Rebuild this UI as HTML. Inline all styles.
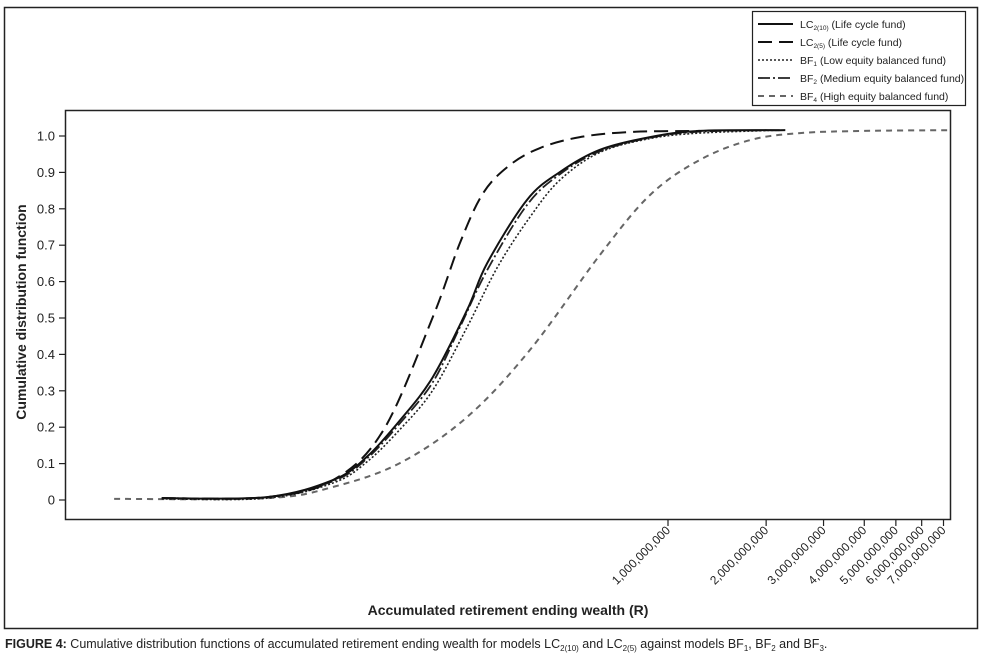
<!DOCTYPE html>
<html><head><meta charset="utf-8"><style>
body{margin:0;background:#fff;width:983px;height:663px;overflow:hidden;font-family:"Liberation Sans",sans-serif}
svg text{font-family:"Liberation Sans",sans-serif}
</style></head><body>
<svg id="chart" width="983" height="663" xmlns="http://www.w3.org/2000/svg">
<rect x="4.5" y="7.5" width="973" height="621" fill="none" stroke="#222" stroke-width="1.5"/>
<rect x="65.5" y="110.5" width="885" height="409" fill="none" stroke="#222" stroke-width="1.5"/>
<g id="ticks"></g>
<g id="lines"></g>
<text x="508" y="615" text-anchor="middle" font-size="14" font-weight="bold" fill="#222">Accumulated retirement ending wealth (R)</text>
<text transform="translate(26,312) rotate(-90)" text-anchor="middle" font-size="14" font-weight="bold" fill="#222">Cumulative distribution function</text>
<g>
<rect x="752.5" y="11.5" width="213" height="94" fill="#fff" stroke="#222" stroke-width="1.2"/>
<g id="legend-items"></g>
</g>
<text x="5" y="648" font-size="12.5" fill="#222"><tspan font-weight="bold">FIGURE 4:</tspan> Cumulative distribution functions of accumulated retirement ending wealth for models LC<tspan font-size="8" dy="3">2(10)</tspan><tspan dy="-3"> and LC</tspan><tspan font-size="8" dy="3">2(5)</tspan><tspan dy="-3"> against models BF</tspan><tspan font-size="8" dy="3">1</tspan><tspan dy="-3">, BF</tspan><tspan font-size="8" dy="3">2</tspan><tspan dy="-3"> and BF</tspan><tspan font-size="8" dy="3">3</tspan><tspan dy="-3">.</tspan></text>
</svg>
<script>
// wealth in millions of Rand, CDF values
const yTicks=[0,0.1,0.2,0.3,0.4,0.5,0.6,0.7,0.8,0.9,1.0];
const yTickLabels=["0","0.1","0.2","0.3","0.4","0.5","0.6","0.7","0.8","0.9","1.0"];
const xTicks=[1000,2000,3000,4000,5000,6000,7000];
const xTickLabels=["1,000,000,000","2,000,000,000","3,000,000,000","4,000,000,000","5,000,000,000","6,000,000,000","7,000,000,000"];
const lc10W=[28,59,94,119,151,190,242,279,369,466,618,881,1250,2290];
const lc10F=[.005,.008,.055,.118,.220,.338,.522,.651,.824,.901,.962,.997,1.014,1.016];
const lc5W=[28,59,94,134,190,230,271,327,405,537,764,1250];
const lc5F=[.005,.008,.055,.192,.503,.706,.843,.920,.967,.997,1.011,1.014];
const bf1W=[28,59,94,119,151,190,242,300,377,466,618,881,1250,2200];
const bf1F=[.003,.005,.047,.104,.195,.302,.475,.640,.777,.879,.955,.993,1.008,1.016];
const bf2W=[28,59,94,119,151,190,230,279,369,466,618,881,1250,2200];
const bf2F=[.005,.008,.052,.113,.212,.324,.475,.632,.810,.895,.958,.995,1.012,1.016];
const bf4W=[20,59,94,151,242,377,618,881,1250,1790,2540,4000,7330];
const bf4F=[.003,.005,.036,.102,.228,.412,.673,.838,.934,.989,1.008,1.014,1.016];

const NS="http://www.w3.org/2000/svg";
function xS(w){return 668+326*Math.log10(w/1000);}
function yS(f){return 500-364*f;}
function mk(tag,attrs,parent){const e=document.createElementNS(NS,tag);for(const k in attrs)e.setAttribute(k,attrs[k]);parent.appendChild(e);return e;}
const tg=document.getElementById('ticks');
yTicks.forEach((v,i)=>{
  const l=mk('line',{x1:59,x2:65,y1:yS(v),y2:yS(v),stroke:'#222','stroke-width':1.2},tg);
  
  
  const t=mk('text',{x:55,y:yS(v)+4.5,'text-anchor':'end','font-size':13,fill:'#222'},tg);
  
  
  t.textContent=yTickLabels[i];
});
xTicks.forEach((v,i)=>{
  const x=xS(v);
  const l=mk('line',{x1:x,x2:x,y1:519,y2:526,stroke:'#222','stroke-width':1.2},tg);
  
  
  const t=mk('text',{transform:`translate(${x+3},${531}) rotate(-45)`,'text-anchor':'end','font-size':12,fill:'#222'},tg);
  
  
  t.textContent=xTickLabels[i];
});
function pathD(W,F){
  const p=W.map((w,i)=>[xS(w),yS(F[i])]);
  let d=`M${p[0][0]},${p[0][1]}`;
  for(let i=0;i<p.length-1;i++){
    const p0=p[Math.max(0,i-1)],p1=p[i],p2=p[i+1],p3=p[Math.min(p.length-1,i+2)];
    const c1=[p1[0]+(p2[0]-p0[0])/6,p1[1]+(p2[1]-p0[1])/6];
    const c2=[p2[0]-(p3[0]-p1[0])/6,p2[1]-(p3[1]-p1[1])/6];
    d+=` C${c1[0]},${c1[1]} ${c2[0]},${c2[1]} ${p2[0]},${p2[1]}`;
  }
  return d;
}
const lg=document.getElementById('lines');
const series=[
 {n:'bf4-line',W:bf4W,F:bf4F,c:'#666',da:'6 5',w:2},
 {n:'bf1-line',W:bf1W,F:bf1F,c:'#222',da:'2 2',w:1.6},
 {n:'bf2-line',W:bf2W,F:bf2F,c:'#222',da:'12 3 2 3',w:1.8},
 {n:'lc10-line',W:lc10W,F:lc10F,c:'#111',da:'',w:2},
 {n:'lc5-line',W:lc5W,F:lc5F,c:'#111',da:'14 7',w:2}
];
series.forEach(s=>{
  const e=mk('path',{d:pathD(s.W,s.F),fill:'none',stroke:s.c,'stroke-width':s.w,'stroke-dasharray':s.da},lg);
  
  
});
const li=document.getElementById('legend-items');
const leg=[
 {l:'LC',s:'2(10)',r:' (Life cycle fund)',c:'#111',da:'',w:2},
 {l:'LC',s:'2(5)',r:' (Life cycle fund)',c:'#111',da:'14 7',w:2},
 {l:'BF',s:'1',r:' (Low equity balanced fund)',c:'#222',da:'2 2',w:1.6},
 {l:'BF',s:'2',r:' (Medium equity balanced fund)',c:'#222',da:'12 3 2 3',w:1.8},
 {l:'BF',s:'4',r:' (High equity balanced fund)',c:'#666',da:'6 5',w:2}
];
leg.forEach((it,i)=>{
  const y=24+i*18;
  const g=mk('g',{},li);
  
  
  mk('line',{x1:758,x2:793,y1:y,y2:y,stroke:it.c,'stroke-width':it.w,'stroke-dasharray':it.da},g);
  const t=mk('text',{x:800,y:y+4,'font-size':10.5,fill:'#222'},g);
  t.innerHTML=`${it.l}<tspan font-size="6.5" dy="2">${it.s}</tspan><tspan dy="-2">${it.r}</tspan>`;
});
</script>
</body></html>
